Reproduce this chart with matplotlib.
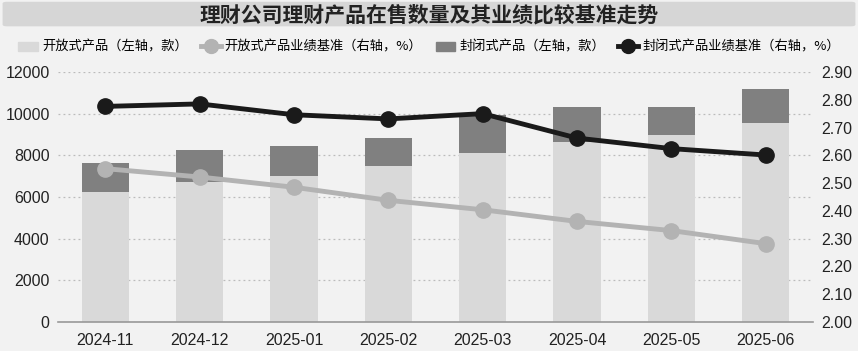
import matplotlib.pyplot as plt
import matplotlib.patches as mpatches
from matplotlib.lines import Line2D
import numpy as np

plt.rcParams['font.family'] = ['Noto Sans CJK SC', 'DejaVu Sans']

# values
months = ['2024-11', '2024-12', '2025-01', '2025-02', '2025-03', '2025-04', '2025-05', '2025-06']
open_cnt = [6240, 6720, 7030, 7490, 8110, 8650, 8970, 9550]
closed_cnt = [1390, 1550, 1400, 1340, 1810, 1650, 1350, 1650]
open_bench = [2.552, 2.522, 2.485, 2.438, 2.404, 2.362, 2.329, 2.282]
closed_bench = [2.776, 2.785, 2.746, 2.731, 2.750, 2.662, 2.624, 2.601]

bg = '#f2f2f2'
c_open = '#d9d9d9'
c_closed = '#808080'
c_open_line = '#b3b3b3'
c_closed_line = '#1a1a1a'

fig = plt.figure(figsize=(8.58, 3.51), dpi=100, facecolor=bg)

# title band
fig.patches.append(mpatches.FancyBboxPatch((0.003, 0.925), 0.994, 0.07, boxstyle='round,pad=0,rounding_size=0.005',
                                           transform=fig.transFigure, facecolor='#d6d6d6', edgecolor='none'))
fig.text(0.5, 0.958, '理财公司理财产品在售数量及其业绩比较基准走势', ha='center', va='center',
         fontsize=15, fontweight='bold', color='#222222')

ax = fig.add_axes([0.0676, 0.0826, 0.88, 0.7124])
ax.set_facecolor(bg)
x = np.arange(len(months))
ax.bar(x, open_cnt, width=0.5, color=c_open, zorder=2)
ax.bar(x, closed_cnt, width=0.5, bottom=open_cnt, color=c_closed, zorder=2)
ax.set_ylim(0, 12000)
ax.set_yticks(range(0, 12001, 2000))
ax.set_xlim(-0.5, len(months) - 0.5)
ax.set_xticks(x)
ax.set_xticklabels(months)
ax.grid(axis='y', color='#bbbbbb', linestyle=(0, (1.5, 2.5)), linewidth=0.9, zorder=0)
ax.set_axisbelow(True)
for s in ['top', 'left', 'right']:
    ax.spines[s].set_visible(False)
ax.spines['bottom'].set_color('#999999')
ax.spines['bottom'].set_linewidth(1.2)
ax.tick_params(length=0, labelsize=11.5, colors='#222222', pad=6)
ax.tick_params(axis='x', pad=8)

ax2 = ax.twinx()
ax2.plot(x, open_bench, color=c_open_line, lw=3.5, marker='o', ms=11, zorder=3)
ax2.plot(x, closed_bench, color=c_closed_line, lw=3.5, marker='o', ms=11, zorder=4)
ax2.set_ylim(2.0, 2.9)
ax2.set_yticks(np.arange(2.0, 2.901, 0.1))
ax2.set_yticklabels(['%.2f' % v for v in np.arange(2.0, 2.901, 0.1)])
for s in ['top', 'left', 'right', 'bottom']:
    ax2.spines[s].set_visible(False)
ax2.tick_params(length=0, labelsize=11.5, colors='#222222', pad=6)

for lab in ax.get_xticklabels() + ax.get_yticklabels() + ax2.get_yticklabels():
    lab.set_family(['Liberation Sans', 'DejaVu Sans'])

handles = [
    mpatches.Patch(color=c_open),
    Line2D([], [], color=c_open_line, lw=3.5, marker='o', ms=10),
    mpatches.Patch(color=c_closed),
    Line2D([], [], color=c_closed_line, lw=3.5, marker='o', ms=10),
]
labels = ['开放式产品（左轴，款）', '开放式产品业绩基准（右轴，%）', '封闭式产品（左轴，款）', '封闭式产品业绩基准（右轴，%）']
fig.legend(handles, labels, loc='center', bbox_to_anchor=(0.5, 0.865), ncol=4, frameon=False,
           fontsize=9.5, handlelength=1.5, handletextpad=0.3, columnspacing=1.0)

fig.savefig('out.png', dpi=100, facecolor=bg)
